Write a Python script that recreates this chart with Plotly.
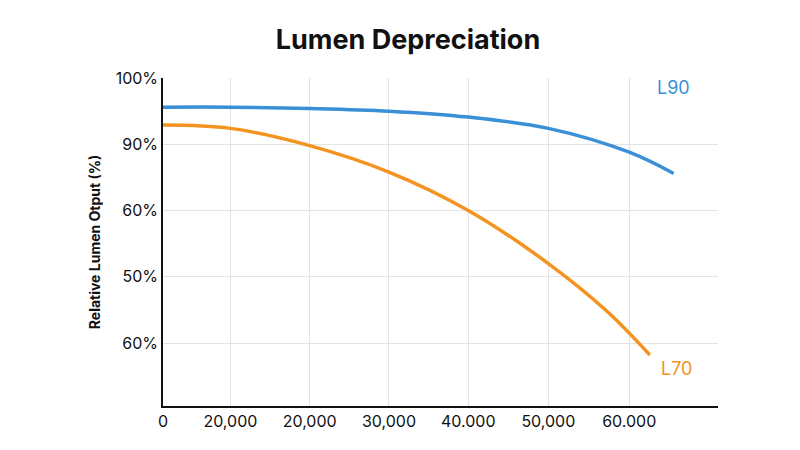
import plotly.graph_objects as go

# values
hours_l90 = [0, 8500, 18500, 28500, 38500, 48600, 58800, 64400]
output_l90 = [95.6, 95.6, 95.4, 95.0, 94.1, 92.4, 88.8, 85.6]
hours_l70 = [0, 8500, 18500, 28500, 38500, 48600, 55900, 61400]
output_l70 = [92.9, 92.4, 89.8, 85.8, 80.0, 72.0, 64.9, 58.2]

x_ticks = [0, 8500, 18500, 28500, 38500, 48600, 58800]
x_labels = ["0", "20,000", "20,000", "30,000", "40.000", "50,000", "60.000"]
y_ticks = [100, 90, 80, 70, 60]
y_labels = ["100%", "90%", "60%", "50%", "60%"]

blue = "#3a8fd6"
orange = "#f39420"

fig = go.Figure()
fig.add_trace(go.Scatter(x=hours_l90, y=output_l90, mode="lines", name="L90",
                         line=dict(color=blue, width=3.5, shape="spline")))
fig.add_trace(go.Scatter(x=hours_l70, y=output_l70, mode="lines", name="L70",
                         line=dict(color=orange, width=3.5, shape="spline")))

fig.add_annotation(x=hours_l90[-1], y=98.5, text="L90", showarrow=False,
                   font=dict(size=18, color=blue), xanchor="center")
fig.add_annotation(x=hours_l70[-1] + 1200, y=56.2, text="L70", showarrow=False,
                   font=dict(size=18, color=orange), xanchor="left")

fig.update_layout(
    width=800, height=450,
    margin=dict(l=155, r=90, t=70, b=52),
    paper_bgcolor="white", plot_bgcolor="white",
    showlegend=False,
    font=dict(family="Inter, Roboto, sans-serif", color="#111"),
    title=dict(text="<b>Lumen Depreciation</b>", x=0.5, y=0.95,
               xanchor="center", yanchor="top", font=dict(size=27, color="#111")),
)
fig.update_xaxes(range=[0, 70000], tickvals=x_ticks, ticktext=x_labels,
                 showgrid=True, gridcolor="#e3e3e3", showline=True,
                 linecolor="#111", linewidth=1.5, zeroline=False,
                 tickfont=dict(size=16))
fig.update_yaxes(range=[50.5, 100], tickvals=y_ticks, ticktext=y_labels,
                 showgrid=True, gridcolor="#e3e3e3", showline=True,
                 linecolor="#111", linewidth=1.5, zeroline=False,
                 tickfont=dict(size=16),
                 title=dict(text="<b>Relative Lumen Otput (%)</b>",
                            font=dict(size=14), standoff=12))

fig.write_html("out.html")
